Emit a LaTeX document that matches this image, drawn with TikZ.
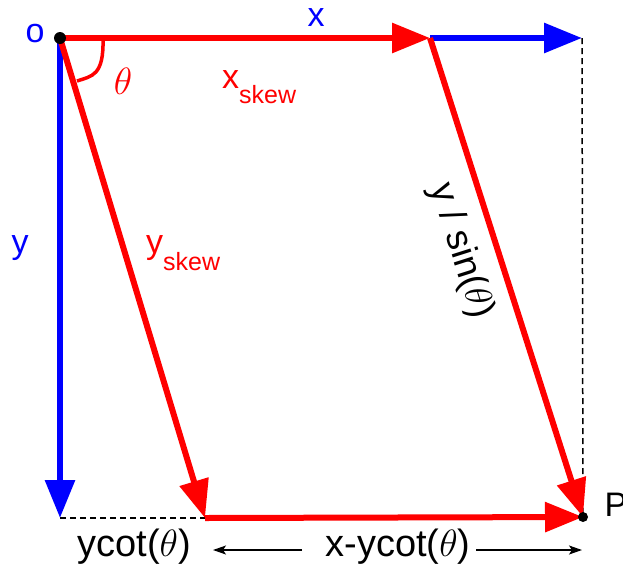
\documentclass[tikz,border=0pt]{standalone}
\usepackage{fix-cm}
\usepackage{fontspec}
\setmainfont{Liberation Sans}
\usetikzlibrary{arrows.meta}

\begin{document}
\begin{tikzpicture}[x=1pt,y=-1pt,
  big/.style={line width=6pt,-{Triangle[length=38pt,width=29pt]}},
  thin/.style={line width=1.4pt,-{Stealth[length=13pt,width=9pt,inset=3pt]}},
  guide/.style={line width=1.5pt,dash pattern=on 6pt off 4pt},
  dot/.style={circle,fill=black,inner sep=0pt,minimum size=#1},
  lbl/.style={font=\fontsize{34}{40}\selectfont,inner sep=0pt,anchor=base},
  dim/.style={lbl,font=\fontsize{38}{44}\selectfont},
  sub/.style={font=\fontsize{34}{40}\selectfont,inner sep=0pt,anchor=base west}]
 \useasboundingbox (0,0) rectangle (623,568);
 \coordinate (o) at (60,38);
 \coordinate (xs) at (430,38);
 \coordinate (xe) at (582,38);
 \coordinate (ye) at (60,518);
 \coordinate (ys) at (205,518);
 \coordinate (p) at (583,517);
 % guides
 \draw[guide] (ye)--(ys);
 \draw[guide] (xe)--(p);
 % axes
 \draw[big,blue] (o)--(ye);
 \draw[big,blue] (xs)--(xe);
 \draw[big,red] (o)--(xs);
 \draw[big,red] (o)--(ys);
 \draw[big,red] (ys)--(p);
 \draw[big,red] (xs)--(p);
 \draw[red,line width=3.5pt] (103,38) .. controls (104,76) and (92,76) .. (77,81);
 \node[dot=12pt] (odot) at (o) {};
 \node[dot=10pt] (pdot) at (p) {};
 % labels
 \node[lbl,blue] (olbl) at (35,42) {o};
 \node[lbl,blue] (xlbl) at (316,26) {x};
 \node[lbl,blue] (ylbl) at (20,253) {y};
 \node[dim,red] (thlbl) at (123,94) {$\theta$};
 \node[sub,red] (xskew) at (222,88) {x\raisebox{-15pt}{\fontsize{25}{30}\selectfont skew}};
 \node[sub,red] (yskew) at (146,253) {y\raisebox{-17pt}{\fontsize{25}{30}\selectfont skew}};
 \node[lbl,font=\fontsize{37}{42}\selectfont,anchor=center,rotate=-72.4] (slbl) at (461,251) {y / sin($\theta$)};
 \node[lbl] (plbl) at (616,516) {P};
 \node[dim] (ycot) at (134,556) {ycot($\theta$)};
 \node[dim] (xycot) at (398,556) {x-ycot($\theta$)};
 % dimension arrows
 \coordinate (la) at (302,550);
 \coordinate (lb) at (213,550);
 \coordinate (ra) at (476,550);
 \coordinate (rb) at (582,550);
 \draw[thin] (la)--(lb);
 \draw[thin] (ra)--(rb);
\end{tikzpicture}
\end{document}
